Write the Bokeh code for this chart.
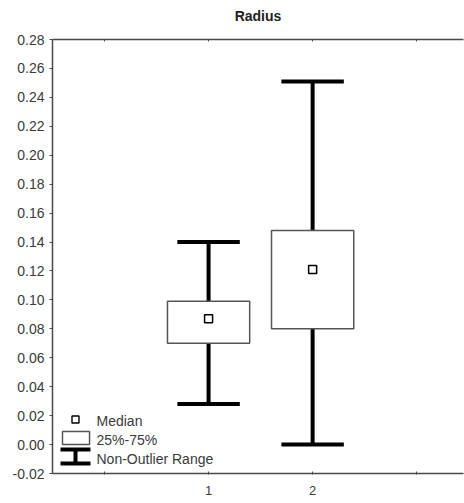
from bokeh.plotting import figure
from bokeh.models import Range1d, FixedTicker, LinearAxis
from bokeh.embed import file_html
from bokeh.resources import INLINE
from bokeh.core.properties import value

# ---- data ----
title_text = "Radius"
categories = ["1", "2"]
positions = [1, 2]
medians = [0.087, 0.121]
q25 = [0.070, 0.080]
q75 = [0.099, 0.148]
whisker_low = [0.028, 0.000]
whisker_high = [0.140, 0.251]
y_ticks = [-0.02, 0.00, 0.02, 0.04, 0.06, 0.08, 0.10, 0.12, 0.14, 0.16, 0.18, 0.20, 0.22, 0.24, 0.26, 0.28]

FONT = "Liberation Sans"
TXT = "#3a3a3a"
AX = "#4a4a4a"

p = figure(width=464, height=503, output_backend="svg", toolbar_location=None,
           x_range=Range1d(-0.5, 3.45), y_range=Range1d(-0.02, 0.28),
           min_border_left=52, min_border_right=1, min_border_top=39, min_border_bottom=30,
           x_axis_location=None, y_axis_location=None)
p.outline_line_color = None
p.xgrid.visible = False
p.ygrid.visible = False
p.background_fill_color = "white"

# left axis
ya = LinearAxis(ticker=FixedTicker(ticks=y_ticks))
ya.major_label_overrides = {t: f"{t:.2f}" for t in y_ticks}
ya.major_label_text_font = FONT
ya.major_label_text_font_size = "14px"
ya.major_label_text_color = TXT
ya.major_tick_out = 3
ya.major_tick_in = 0
ya.minor_tick_out = 0
ya.minor_tick_in = 0
ya.axis_line_color = AX
ya.axis_line_width = 1.5
ya.major_tick_line_color = AX
ya.major_label_standoff = 5
p.add_layout(ya, "left")

# bottom axis
xa = LinearAxis(ticker=FixedTicker(ticks=[0, 1, 2, 3]))
xa.major_label_overrides = {0: "", 1: categories[0], 2: categories[1], 3: ""}
xa.major_label_text_font = FONT
xa.major_label_text_font_size = "13px"
xa.major_label_text_color = TXT
xa.major_tick_out = 1
xa.major_tick_in = 2
xa.minor_tick_out = 0
xa.minor_tick_in = 0
xa.axis_line_color = AX
xa.axis_line_width = 1.5
xa.major_tick_line_color = AX
xa.major_label_standoff = 11
p.add_layout(xa, "below")

# top axis (frame line with inward ticks) carrying the chart title
ta = LinearAxis(ticker=FixedTicker(ticks=[0, 1, 2, 3]))
ta.major_label_text_font_size = "0px"
ta.major_label_overrides = {0: "", 1: "", 2: "", 3: ""}
ta.major_tick_out = 0
ta.major_tick_in = 2
ta.minor_tick_out = 0
ta.minor_tick_in = 0
ta.axis_line_color = AX
ta.axis_line_width = 1.5
ta.major_tick_line_color = AX
ta.major_label_standoff = 0
ta.axis_label = title_text
ta.axis_label_text_font = FONT
ta.axis_label_text_font_size = "14px"
ta.axis_label_text_font_style = "bold"
ta.axis_label_text_color = "#222222"
ta.axis_label_standoff = 16
p.add_layout(ta, "above")

# whiskers
p.segment(x0=positions, y0=q75, x1=positions, y1=whisker_high, line_color="black", line_width=4)
p.segment(x0=positions, y0=q25, x1=positions, y1=whisker_low, line_color="black", line_width=4)
cap_l = [x - 0.3 for x in positions]
cap_r = [x + 0.3 for x in positions]
p.segment(x0=cap_l, y0=whisker_high, x1=cap_r, y1=whisker_high, line_color="black", line_width=4)
p.segment(x0=cap_l, y0=whisker_low, x1=cap_r, y1=whisker_low, line_color="black", line_width=4)

# boxes
p.quad(left=[x - 0.395 for x in positions], right=[x + 0.395 for x in positions],
       bottom=q25, top=q75, fill_color="white", line_color="#555555", line_width=1.5)

# medians
p.scatter(x=positions, y=medians, marker="square", size=8, fill_color="white",
          line_color="black", line_width=1.5)

# legend (drawn inside the plot, lower left)
p.scatter(x=[-0.279], y=[0.0173], marker="square", size=7, fill_color="white",
          line_color="black", line_width=1.4)
p.quad(left=[-0.404], right=[-0.144], bottom=[0.0], top=[0.009],
       fill_color="white", line_color="#555555", line_width=1.5)
p.segment(x0=[-0.423, -0.423, -0.279], y0=[-0.0034, -0.0131, -0.0034],
          x1=[-0.135, -0.135, -0.279], y1=[-0.0034, -0.0131, -0.0131],
          line_color="black", line_width=4)
p.text(x=[-0.077, -0.077, -0.077], y=[0.0166, 0.0035, -0.0097],
       text=["Median", "25%-75%", "Non-Outlier Range"],
       text_font=value(FONT), text_font_size="14px", text_color=TXT,
       text_baseline="middle", text_align="left")

open("out.html", "w").write(file_html(p, INLINE))
